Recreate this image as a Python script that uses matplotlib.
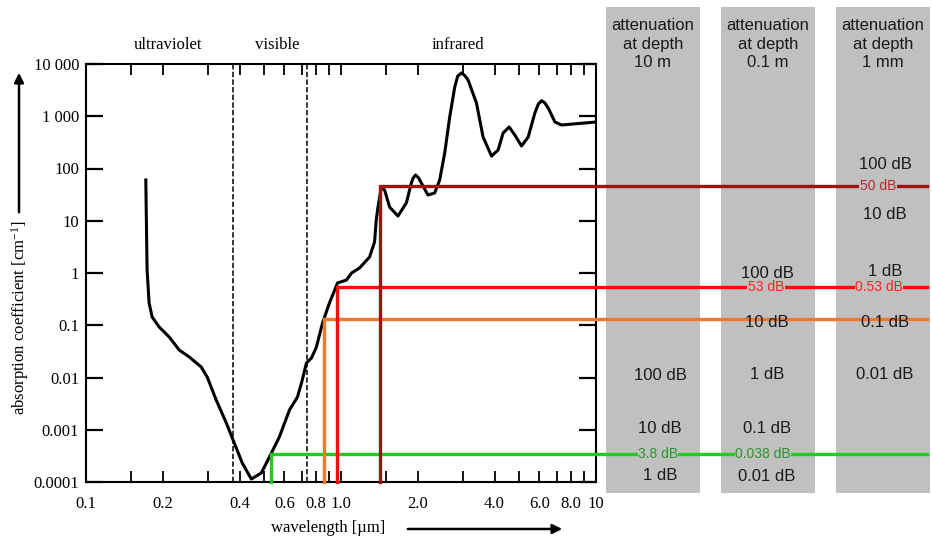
import matplotlib
matplotlib.use('Agg')
import matplotlib.pyplot as plt
from matplotlib import transforms
from matplotlib.patches import Rectangle
from matplotlib.ticker import FixedLocator, FixedFormatter, NullLocator

# absorption of water
wavelength = [0.1716, 0.1736, 0.1768, 0.1817, 0.1936, 0.212, 0.232, 0.254, 0.283, 0.2988,
              0.324, 0.355, 0.3815, 0.410, 0.445, 0.487, 0.524, 0.573, 0.628, 0.675,
              0.70, 0.732, 0.766, 0.801, 0.846, 0.901, 0.969, 1.051, 1.10, 1.182,
              1.294, 1.354, 1.375, 1.391, 1.439, 1.482, 1.551, 1.672, 1.804, 1.887,
              1.918, 1.962, 2.016, 2.066, 2.193, 2.330, 2.438, 2.551, 2.669, 2.793,
              2.870, 2.968, 3.057, 3.15, 3.398, 3.607, 3.893, 4.131, 4.323, 4.564,
              4.804, 5.105, 5.42, 5.758, 5.943, 6.117, 6.304, 6.495, 6.902, 7.333,
              8.124, 10.0]
absorption = [60.3, 1.14, 0.267, 0.144, 0.0927, 0.0596, 0.0336, 0.0247, 0.0159, 0.0102,
              0.00371, 0.00135, 0.000557, 0.000231, 0.000114, 0.000149, 0.000301, 0.000726, 0.00239, 0.00424,
              0.00785, 0.0190, 0.0236, 0.0384, 0.110, 0.267, 0.644, 0.735, 1.0, 1.247,
              2.02, 3.92, 10.3, 16.1, 44.3, 38.8, 18.3, 12.3, 21.9, 52.8,
              65.8, 75.1, 65.8, 52.8, 31.1, 34.0, 60.3, 198, 968, 3631,
              5888, 6730, 6026, 4943, 1794, 401, 173, 226, 478, 623,
              438, 270, 401, 1153, 1715, 1985, 1794, 1439, 776, 680,
              711, 776]

x_ticks = [0.1, 0.15, 0.2, 0.3, 0.4, 0.5, 0.6, 0.7, 0.8, 0.9, 1.0,
           1.5, 2, 3, 4, 5, 6, 7, 8, 9, 10]
x_labels = ['0.1', '', '0.2', '', '0.4', '', '0.6', '', '0.8', '', '1.0',
            '', '2.0', '', '4.0', '', '6.0', '', '8.0', '', '10']
y_ticks = [1e-4, 1e-3, 1e-2, 1e-1, 1, 10, 100, 1000, 10000]
y_labels = ['0.0001', '0.001', '0.01', '0.1', '1', '10', '100', '1 000', '10 000']

band_edges = [0.376, 0.735]

# marked wavelengths and their absorption
mark_wl = [0.531, 0.856, 0.963, 1.42]
mark_abs = [3.5e-4, 0.132, 0.54, 46]
mark_colors = ['#1fcc1f', '#f07828', '#ff0a0a', '#a01212']
mark_text_colors = ['#2a962a', '#f07828', '#ff2020', '#b02c2c']

depth_titles = ['attenuation\nat depth\n10 m', 'attenuation\nat depth\n0.1 m',
                'attenuation\nat depth\n1 mm']
col_db = [['100 dB', '10 dB', '1 dB'],
          ['100 dB', '10 dB', '1 dB', '0.1 dB', '0.01 dB'],
          ['100 dB', '10 dB', '1 dB', '0.1 dB', '0.01 dB']]
col_level = [[0.011, 0.00108, 0.000135],
             [1.0, 0.115, 0.0112, 0.00108, 0.00013],
             [117, 12.9, 1.05, 0.115, 0.0112]]
# attenuation of each marked line in each column
line_db = [['3.8 dB', '0.038 dB', None],
           [None, None, None],
           [None, '53 dB', '0.53 dB'],
           [None, None, '50 dB']]

serif = 'Liberation Serif'
sans = 'Liberation Sans'
plt.rcParams['mathtext.default'] = 'regular'

fig = plt.figure(figsize=(9.32, 5.40), dpi=100)

# background in pixel coordinates for the grey columns
bg = fig.add_axes([0, 0, 1, 1])
bg.set_xlim(0, 932)
bg.set_ylim(540, 0)
bg.axis('off')
col_left = [606, 721, 836]
col_w = 94
col_lx = [660, 767, 885]
line_lx = [[658, 763, None], [None, None, None], [None, 766, 879], [None, None, 878]]
for i in range(3):
    bg.add_patch(Rectangle((col_left[i], 7), col_w, 486, facecolor='#c0c0c0', edgecolor='none'))
    bg.text(col_left[i] + col_w / 2, 44, depth_titles[i], ha='center', va='center',
            fontsize=12, family=sans, color='#1a1a1a', linespacing=1.3)

ax = fig.add_axes([86 / 932, 58 / 540, 510 / 932, 418 / 540])
ax.set_xscale('log')
ax.set_yscale('log')
ax.set_xlim(0.1, 10)
ax.set_ylim(1e-4, 1e4)
ax.patch.set_alpha(0)

ax.plot(wavelength, absorption, color='black', lw=2.2, solid_joinstyle='round', zorder=3)
for e in band_edges:
    ax.axvline(e, color='black', lw=1.1, ls=(0, (3.5, 1.5)), zorder=2)

x_end = ax.transData.inverted().transform(bg.transData.transform((927, 0)))[0]
for i in range(len(mark_wl)):
    ax.plot([mark_wl[i], mark_wl[i], x_end], [1e-4, mark_abs[i], mark_abs[i]],
            color=mark_colors[i], lw=2.4, clip_on=False, zorder=4,
            solid_joinstyle='miter')

mix = transforms.blended_transform_factory(bg.transData, ax.transData)
for i in range(3):
    for lab, lev in zip(col_db[i], col_level[i]):
        ax.text(col_lx[i], lev, lab, transform=mix, ha='center', va='center',
                fontsize=12, family=sans, color='#1a1a1a', zorder=6)
for i in range(len(mark_wl)):
    for j in range(3):
        if line_db[i][j]:
            ax.text(line_lx[i][j], mark_abs[i], line_db[i][j], transform=mix,
                    ha='center', va='center', fontsize=10, family=sans,
                    color=mark_text_colors[i], zorder=6,
                    bbox=dict(facecolor='#c0c0c0', edgecolor='none', pad=0.3))

ax.xaxis.set_major_locator(FixedLocator(x_ticks))
ax.xaxis.set_major_formatter(FixedFormatter(x_labels))
ax.xaxis.set_minor_locator(NullLocator())
ax.yaxis.set_major_locator(FixedLocator(y_ticks))
ax.yaxis.set_major_formatter(FixedFormatter(y_labels))
ax.yaxis.set_minor_locator(NullLocator())
ax.tick_params(axis='x', direction='in', length=8, width=1.3, top=True, pad=10,
               labelsize=12)
ax.tick_params(axis='y', direction='in', length=12, width=1.6, right=True, pad=5,
               labelsize=12)
for lab in ax.get_xticklabels() + ax.get_yticklabels():
    lab.set_family(serif)
for s in ax.spines.values():
    s.set_linewidth(1.5)

# band names and axis titles
bg.text(168, 45, 'ultraviolet', ha='center', va='center', fontsize=12, family=serif)
bg.text(277, 45, 'visible', ha='center', va='center', fontsize=12, family=serif)
bg.text(458, 45, 'infrared', ha='center', va='center', fontsize=12, family=serif)
bg.text(328, 528, 'wavelength [µm]', ha='center', va='center', fontsize=12, family=serif)
bg.annotate('', xy=(565, 529), xytext=(405, 529),
            arrowprops=dict(arrowstyle='-|>', color='black', lw=1.8, mutation_scale=14))
bg.text(20, 318, 'absorption coefficient [cm$^{-1}$]', ha='center', va='center',
        rotation=90, fontsize=12, family=serif)
bg.annotate('', xy=(19, 70), xytext=(19, 215),
            arrowprops=dict(arrowstyle='-|>', color='black', lw=1.8, mutation_scale=14))

fig.savefig('out.png', dpi=100)
